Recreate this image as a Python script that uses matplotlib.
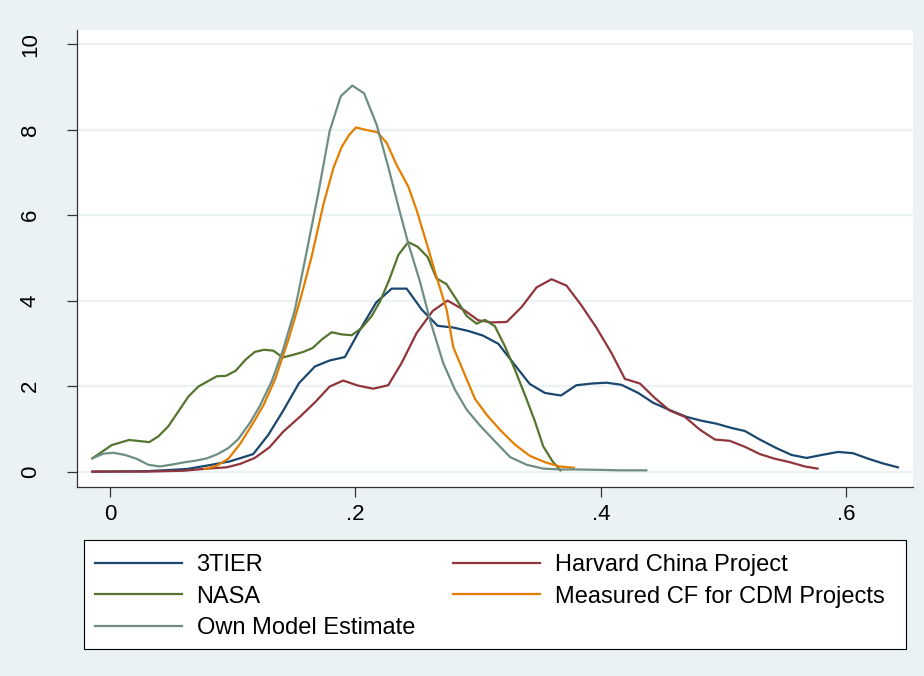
import matplotlib
matplotlib.use("Agg")
import matplotlib.pyplot as plt
from matplotlib.patches import Rectangle

plt.rcParams['font.family'] = ["Liberation Sans", "DejaVu Sans"]

# ---- data ----
tier_x = [-0.0144, 0.03, 0.0625, 0.0788, 0.0978, 0.1167, 0.129, 0.141, 0.154, 0.167, 0.179, 0.1914,
          0.2037, 0.217, 0.2295, 0.2417, 0.254, 0.267, 0.2797, 0.292, 0.304, 0.3164, 0.3286, 0.342,
          0.3544, 0.3674, 0.380, 0.3924, 0.4046, 0.4168, 0.4304, 0.4426, 0.456, 0.4698, 0.482,
          0.4943, 0.5065, 0.5173, 0.5295, 0.543, 0.5553, 0.5676, 0.580, 0.5933, 0.6055, 0.618,
          0.630, 0.642]
tier_y = [0.0, 0.01, 0.06, 0.14, 0.24, 0.41, 0.86, 1.42, 2.07, 2.46, 2.60, 2.68, 3.32, 3.96, 4.28,
          4.28, 3.79, 3.41, 3.37, 3.29, 3.18, 2.99, 2.54, 2.05, 1.84, 1.78, 2.02, 2.06, 2.08, 2.03,
          1.84, 1.61, 1.44, 1.28, 1.19, 1.12, 1.02, 0.95, 0.75, 0.55, 0.39, 0.32, 0.39, 0.46, 0.43,
          0.30, 0.19, 0.10]

harv_x = [-0.0144, 0.03, 0.06, 0.079, 0.095, 0.106, 0.118, 0.130, 0.141, 0.155, 0.167, 0.179, 0.190,
          0.2023, 0.2145, 0.2267, 0.2376, 0.2498, 0.263, 0.275, 0.2879, 0.300, 0.311, 0.3232,
          0.3354, 0.3476, 0.3598, 0.372, 0.3843, 0.3965, 0.4087, 0.4195, 0.4318, 0.444, 0.456,
          0.4684, 0.4807, 0.4929, 0.505, 0.5173, 0.5295, 0.5418, 0.554, 0.5662, 0.5765]
harv_y = [0.0, 0.0, 0.02, 0.07, 0.10, 0.18, 0.32, 0.57, 0.93, 1.29, 1.62, 1.99, 2.13, 2.01, 1.94,
          2.02, 2.54, 3.24, 3.76, 4.00, 3.79, 3.54, 3.49, 3.50, 3.85, 4.31, 4.50, 4.35, 3.88, 3.36,
          2.77, 2.17, 2.06, 1.72, 1.43, 1.28, 0.98, 0.75, 0.72, 0.58, 0.41, 0.30, 0.22, 0.12, 0.07]

nasa_x = [-0.0144, 0.0014, 0.0155, 0.032, 0.0396, 0.0475, 0.064, 0.072, 0.087, 0.0945, 0.1024,
          0.1105, 0.118, 0.1255, 0.133, 0.1407, 0.149, 0.1575, 0.165, 0.173, 0.1806, 0.1887,
          0.197, 0.205, 0.213, 0.22, 0.227, 0.235, 0.243, 0.2506, 0.2588, 0.266, 0.274, 0.2824,
          0.2906, 0.2987, 0.3055, 0.3136, 0.3218, 0.330, 0.338, 0.3462, 0.353, 0.3606, 0.367]
nasa_y = [0.31, 0.62, 0.74, 0.69, 0.83, 1.06, 1.76, 1.99, 2.23, 2.24, 2.36, 2.62, 2.80, 2.85, 2.83,
          2.67, 2.73, 2.80, 2.89, 3.10, 3.26, 3.21, 3.19, 3.36, 3.63, 3.98, 4.45, 5.07, 5.37, 5.26,
          5.02, 4.52, 4.39, 4.02, 3.64, 3.46, 3.55, 3.40, 2.93, 2.38, 1.80, 1.18, 0.59, 0.24, 0.03]

cdm_x = [0.077, 0.087, 0.0964, 0.106, 0.1154, 0.125, 0.1344, 0.1453, 0.155, 0.1643, 0.1738, 0.182,
         0.1887, 0.1947, 0.2004, 0.209, 0.2178, 0.2254, 0.2336, 0.243, 0.2498, 0.258, 0.266,
         0.2743, 0.2797, 0.288, 0.2974, 0.3069, 0.3177, 0.330, 0.342, 0.3544, 0.3666, 0.378]
cdm_y = [0.06, 0.14, 0.30, 0.65, 1.08, 1.55, 2.15, 3.08, 4.02, 5.03, 6.24, 7.10, 7.59, 7.87, 8.05,
         7.99, 7.94, 7.69, 7.17, 6.67, 6.12, 5.34, 4.56, 3.79, 2.91, 2.34, 1.70, 1.33, 0.98, 0.63,
         0.37, 0.22, 0.12, 0.09]

own_x = [-0.0144, -0.0054, 0.0027, 0.0122, 0.0217, 0.0312, 0.0407, 0.0516, 0.061, 0.0706, 0.0788,
         0.087, 0.0964, 0.1045, 0.114, 0.122, 0.1317, 0.141, 0.1507, 0.160, 0.1697, 0.179, 0.188,
         0.1974, 0.207, 0.2173, 0.2267, 0.235, 0.243, 0.2525, 0.2607, 0.2715, 0.281, 0.2906,
         0.3014, 0.3136, 0.326, 0.3395, 0.353, 0.367, 0.380, 0.402, 0.4155, 0.437]
own_y = [0.31, 0.42, 0.44, 0.39, 0.30, 0.16, 0.12, 0.17, 0.22, 0.26, 0.31, 0.40, 0.55, 0.76, 1.14,
         1.53, 2.11, 2.85, 3.79, 5.11, 6.51, 7.97, 8.78, 9.03, 8.85, 8.11, 7.13, 6.20, 5.34, 4.45,
         3.55, 2.54, 1.92, 1.45, 1.08, 0.71, 0.34, 0.16, 0.07, 0.05, 0.05, 0.04, 0.03, 0.03]

series_labels = ["3TIER", "Harvard China Project", "NASA", "Measured CF for CDM Projects",
                 "Own Model Estimate"]
series_colors = ["#1A476F", "#90353B", "#55752F", "#E37E00", "#6E8E84"]

x_ticks = [0, 0.2, 0.4, 0.6]
x_ticklabels = ["0", ".2", ".4", ".6"]
y_ticks = [0, 2, 4, 6, 8, 10]
y_ticklabels = ["0", "2", "4", "6", "8", "10"]

# ---- figure ----
W, H = 924, 676
bg = "#EAF2F3"
fig = plt.figure(figsize=(W / 100, H / 100), dpi=100, facecolor=bg)
ax = fig.add_axes([77 / W, 1 - 487 / H, (913 - 77) / W, (487 - 30) / H])
ax.set_facecolor("white")

xs = [tier_x, harv_x, nasa_x, cdm_x, own_x]
ys = [tier_y, harv_y, nasa_y, cdm_y, own_y]
lines = []
for x, y, c, lab in zip(xs, ys, series_colors, series_labels):
    ln, = ax.plot(x, y, color=c, lw=1.6, label=lab, solid_joinstyle="round")
    lines.append(ln)

ax.set_xlim(-0.0269, 0.6543)
ax.set_ylim(-0.36, 10.33)

ax.set_yticks(y_ticks)
ax.set_yticklabels(y_ticklabels, rotation=90, va="center")
ax.set_xticks(x_ticks)
ax.set_xticklabels(x_ticklabels)
ax.tick_params(axis="both", direction="out", length=7, width=0.9, color="#333333",
               labelsize=16, labelcolor="black")
ax.tick_params(axis="y", pad=19)
ax.tick_params(axis="x", pad=5)

for yv in y_ticks:
    ax.axhline(yv, color=bg, lw=1.6, zorder=0.5)

for s in ["top", "right"]:
    ax.spines[s].set_visible(False)
for s in ["left", "bottom"]:
    ax.spines[s].set_color("#333333")
    ax.spines[s].set_linewidth(0.9)

# legend box
fig.patches.append(Rectangle((84 / W, 1 - 649 / H), (906 - 84) / W, (649 - 540) / H,
                             transform=fig.transFigure, facecolor="white",
                             edgecolor="black", lw=0.8, zorder=1))

leg_kw = dict(frameon=False, fontsize=17, handlelength=3.68, handletextpad=0.62,
              borderaxespad=0, borderpad=0, labelspacing=0.41, loc="upper left")
col1 = [0, 2, 4]
col2 = [1, 3]
leg1 = fig.legend([lines[i] for i in col1], [series_labels[i] for i in col1],
                  bbox_to_anchor=(95 / W, 1 - 554 / H), **leg_kw)
leg2 = fig.legend([lines[i] for i in col2], [series_labels[i] for i in col2],
                  bbox_to_anchor=(453 / W, 1 - 554 / H), **leg_kw)
for lg in (leg1, leg2):
    lg.set_zorder(2)

fig.savefig("out.png", dpi=100, facecolor=bg)
